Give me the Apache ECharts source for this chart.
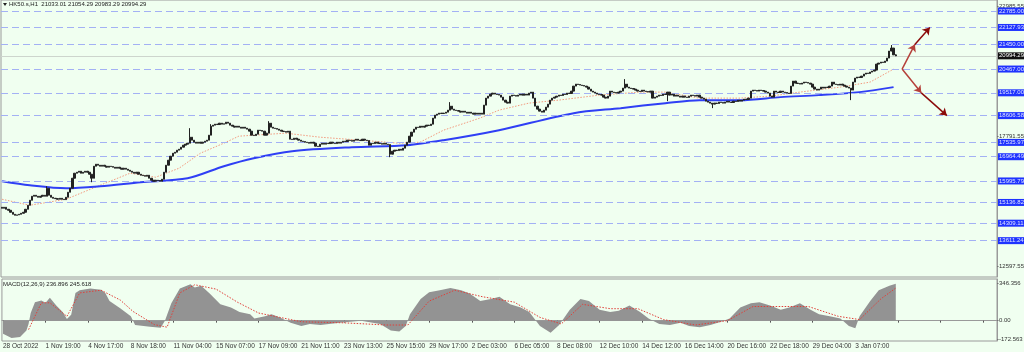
<!DOCTYPE html>
<html><head><meta charset="utf-8">
<script src="https://cdn.jsdelivr.net/npm/echarts@6/dist/echarts.min.js"></script>
<style>html,body{margin:0;padding:0;background:#f0fff0}#c{width:1024px;height:352px}</style>
</head><body><div id="c"></div><script>
const headerText = 'HK50.s,H1  21033.01 21054.29 20983.29 20994.29';
const macdText = 'MACD(12,26,9) 236.896 245.618';
const firstOpen = 14945;
const closes = [
14905,14945,14865,14825,14745,14665,14625,14640,14665,14705,14745,14865,15025,15225,15385,15425,15385,15345,15385,15425,
15385,15705,15425,15345,15305,15290,15265,15305,15265,15250,15345,15545,15705,16105,16305,16345,16385,16305,16345,16385,
16345,16265,16105,16585,16665,16625,16585,16625,16585,16545,16585,16570,16545,16505,16545,16505,16465,16505,16465,16425,
16385,16345,16305,16345,16265,16225,16210,16185,16225,16105,16025,15985,16025,16010,15985,16065,16345,16625,16825,16985,
17105,17145,17225,17265,17345,17425,17465,17505,17745,17625,17545,17505,17545,17505,17545,17585,17625,17825,18185,18225,
18265,18250,18305,18265,18280,18345,18305,18225,18185,18145,18185,18145,18105,18145,18105,18065,17985,17825,17810,17865,
18025,18010,17985,17825,17905,18305,18145,18105,18090,18065,18025,17985,17970,17945,17985,17665,17650,17705,17665,17625,
17585,17570,17545,17530,17505,17545,17505,17385,17370,17465,17505,17465,17505,17490,17545,17505,17490,17545,17505,17545,
17585,17570,17625,17610,17585,17625,17665,17625,17610,17665,17625,17610,17425,17505,17490,17545,17505,17490,17465,17505,
17465,17450,17065,17185,17225,17210,17265,17225,17305,17425,17545,17785,17945,18065,18145,18130,18185,18145,18185,18225,
18210,18265,18505,18625,18665,18705,18690,18705,18745,18825,18985,18865,18825,18810,18785,18745,18785,18745,18705,18745,
18705,18665,18705,18665,18705,18665,19025,19305,19385,19465,19505,19465,19450,19425,19345,19225,19145,19105,19385,19425,
19410,19385,19425,19465,19425,19465,19425,19505,19545,19305,18985,18865,18785,18745,18825,18945,19065,19225,19305,19345,
19385,19425,19410,19465,19450,19505,19490,19585,19785,19865,19850,19825,19810,19785,19745,19665,19585,19545,19505,19465,
19450,19425,19345,19305,19385,19585,19545,19530,19505,19545,19585,19705,19865,19745,19705,19690,19665,19625,19585,19570,
19625,19585,19570,19545,19585,19305,19345,19385,19425,19410,19465,19450,19545,19425,19465,19385,19425,19385,19345,19385,
19345,19330,19385,19425,19410,19385,19425,19345,19305,19265,19185,19145,19105,19065,19105,19090,19145,19130,19105,19145,
19185,19145,19130,19185,19170,19225,19185,19225,19265,19250,19305,19585,19625,19610,19585,19625,19610,19585,19545,19505,
19385,19345,19585,19545,19530,19585,19545,19530,19505,19490,19785,19985,19905,19890,19865,19905,19945,19930,19905,19865,
19745,19665,19625,19665,19745,19705,19745,19730,19785,19945,19865,19850,19825,19865,19825,19785,19745,19705,19625,19945,
20105,20145,20130,20185,20265,20305,20290,20345,20385,20425,20665,20705,20745,20730,20785,20905,21185,21305,21033.01,20994.29
];
const spikeHighs = [[21,15785],[88,18105],[98,18265],[125,18385],[210,19145],[292,20065],[417,21425],[419,21054.29]];
const spikeLows = [[42,15945],[182,16945],[312,19185],[333,18905],[398,19225],[419,20983.29]];
const slotCount = 467;
const timeLabels = ['28 Oct 2022','1 Nov 19:00','4 Nov 17:00','8 Nov 18:00','11 Nov 04:00','15 Nov 07:00','17 Nov 09:00','21 Nov 11:00','23 Nov 13:00','25 Nov 15:00','29 Nov 17:00','2 Dec 03:00','6 Dec 05:00','8 Dec 08:00','12 Dec 10:00','14 Dec 12:00','16 Dec 14:00','20 Dec 16:00','22 Dec 18:00','29 Dec 04:00','3 Jan 07:00'];
const labelEvery = 20;
const slowMA = [[0,15985],[13,15825],[30,15705],[46,15785],[65,15945],[87,16105],[104,16585],[118,16905],[136,17185],[164,17345],[190,17425],[207,17625],[233,18025],[268,18705],[290,18905],[311,19105],[327,19225],[346,19225],[365,19345],[383,19425],[402,19545],[418,19745]];
const fastMA = [[0,15265],[13,15025],[30,15265],[46,15825],[60,16305],[72,16145],[83,16505],[93,17105],[104,17505],[111,17785],[133,17905],[149,17745],[168,17625],[186,17505],[196,17545],[207,18025],[224,18505],[233,18825],[247,19105],[261,19225],[280,19425],[299,19545],[311,19545],[327,19305],[346,19305],[360,19385],[374,19545],[393,19745],[407,19945],[418,20465]];
const levels = [22785.00,22127.93,21450.00,20467.00,19517.00,18606.58,17535.97,16964.49,15995.79,15136.82,14309.11,13611.24];
const bidPrice = 20994.29;
const priceTicks = [22985.55,17791.55,12597.55];
const arrowUp = [[422,20467.00],[428,21450.00],[435,22127.93]];
const arrowDown = [[422,20467.00],[431,19517.00],[443,18606.58]];
const macdHist = [[0,-120],[4,-160],[8,-150],[11,-90],[12,-30],[13,70],[15,170],[18,185],[20,165],[22,210],[25,140],[28,80],[30,15],[32,55],[34,255],[36,280],[41,295],[46,285],[48,255],[50,180],[55,115],[60,40],[62,-40],[69,-55],[74,-65],[76,0],[79,160],[83,295],[88,335],[90,305],[93,320],[97,250],[102,150],[107,120],[111,80],[116,60],[118,20],[123,40],[126,60],[130,30],[135,-20],[140,-50],[144,-30],[149,-40],[158,-20],[168,0],[177,-30],[182,-90],[186,-100],[189,-50],[191,60],[196,200],[200,260],[205,280],[210,300],[215,280],[219,250],[224,180],[229,200],[233,220],[238,150],[243,120],[247,80],[252,-50],[257,-110],[261,-40],[266,100],[271,200],[275,180],[280,100],[285,80],[289,90],[294,140],[299,80],[303,20],[308,-30],[313,-40],[318,-20],[322,-50],[327,-60],[332,-40],[337,-10],[341,20],[346,120],[351,160],[355,170],[360,140],[365,100],[369,120],[374,160],[379,100],[383,60],[388,40],[393,20],[397,-50],[400,-70],[402,40],[407,180],[411,280],[416,320],[419,340]];
const macdSignal = [[12,-82],[18,164],[22,164],[30,40],[36,255],[46,280],[55,190],[61,85],[71,-36],[77,-60],[83,255],[90,330],[100,290],[110,170],[120,70],[130,30],[140,-10],[160,-20],[180,-40],[190,-40],[200,180],[212,280],[225,220],[240,170],[252,30],[262,-30],[272,150],[285,110],[298,110],[310,10],[325,-40],[340,0],[352,130],[365,130],[378,130],[392,40],[402,10],[412,200],[419,300]];
const macdTicks = [346.356,0.00,-172.563];

const pxTop = 23225.25, pxBottom = 12159;
const macdMax = 382.8, macdMin = -186.9;

const cats = [];
for (let i = 0; i < slotCount; i++) cats.push(String(i));
const candles = closes.map((c, i) => {
  const o = i === 0 ? firstOpen : closes[i - 1];
  return [o, c, Math.min(o, c), Math.max(o, c)];
});
spikeHighs.forEach(([i, v]) => { candles[i][3] = Math.max(candles[i][3], v); });
spikeLows.forEach(([i, v]) => { candles[i][2] = Math.min(candles[i][2], v); });

const font = 'Liberation Sans';
const fs = 6;
const chart = echarts.init(document.getElementById('c'), null, {renderer: 'canvas'});

const levelLines = levels.map(v => ({
  yAxis: v,
  lineStyle: {color: '#a3b1f4', type: [7, 4], width: 1},
  label: {show: true, position: 'end', distance: 1, formatter: v.toFixed(2), color: '#dfe4ff', backgroundColor: '#1f33ff', padding: [1, 1, 0, 1], fontSize: fs, fontFamily: font}
}));
const bidLine = {
  yAxis: bidPrice,
  lineStyle: {color: '#cdd5cd', type: 'solid', width: 1},
  label: {show: true, position: 'end', distance: 1, formatter: bidPrice.toFixed(2), color: '#ffffff', backgroundColor: '#111111', padding: [1, 1, 0, 1], fontSize: fs, fontFamily: font}
};
function segs(pts, colors) {
  const out = [];
  for (let k = 0; k < pts.length - 1; k++) {
    out.push([{coord: pts[k], lineStyle: {color: colors[k], width: 1.5, type: 'solid'}, symbol: 'none'}, {coord: pts[k + 1], symbol: 'arrow'}]);
  }
  return out;
}
const arrowLines = segs(arrowUp, ['#b5403a', '#8b0a0a']).concat(segs(arrowDown, ['#b5403a', '#8b0a0a']));

const tickLines = priceTicks.map(v => ({
  yAxis: v, lineStyle: {color: 'rgba(0,0,0,0)', width: 0},
  label: {show: true, position: 'end', distance: 0, formatter: '-' + v.toFixed(2), color: '#333', fontSize: fs, fontFamily: font}
}));
const macdTickLines = macdTicks.map(v => ({
  yAxis: v, lineStyle: {color: 'rgba(0,0,0,0)', width: 0},
  label: {show: true, position: 'end', distance: 0, formatter: '-' + (v === 0 ? '0.00' : String(v)), color: '#333', fontSize: fs, fontFamily: font}
}));

const option = {
  backgroundColor: '#f0fff0',
  animation: false,
  grid: [
    {left: 1, right: 27, top: 0, height: 277, show: true, borderColor: '#9a9a9a', borderWidth: 1, backgroundColor: 'transparent'},
    {left: 1, right: 27, top: 279, height: 62, show: true, borderColor: '#9a9a9a', borderWidth: 1, backgroundColor: 'transparent'}
  ],
  xAxis: [
    {type: 'category', gridIndex: 0, data: cats, boundaryGap: true, axisLine: {show: false}, axisTick: {show: false}, axisLabel: {show: false}, splitLine: {show: false}},
    {type: 'category', gridIndex: 1, data: cats, boundaryGap: true,
     axisLine: {show: true, lineStyle: {color: '#9a9a9a'}},
     axisTick: {show: true, alignWithLabel: true, length: 2, interval: (i) => i % labelEvery === 0, lineStyle: {color: '#555'}},
     axisLabel: {show: true, interval: (i) => i % labelEvery === 0, align: 'left', margin: 2, fontSize: 6.5, fontFamily: font, color: '#333',
       formatter: (v, i) => (i % labelEvery === 0 && timeLabels[i / labelEvery]) ? timeLabels[i / labelEvery] : ''},
     splitLine: {show: false}}
  ],
  yAxis: [
    {type: 'value', gridIndex: 0, position: 'right', min: pxBottom, max: pxTop, axisLine: {show: true, lineStyle: {color: '#9a9a9a'}}, axisTick: {show: false}, axisLabel: {show: false}, splitLine: {show: false}},
    {type: 'value', gridIndex: 1, position: 'right', min: macdMin, max: macdMax, axisLine: {show: true, lineStyle: {color: '#9a9a9a'}}, axisTick: {show: false}, axisLabel: {show: false}, splitLine: {show: false}}
  ],
  graphic: [
    {type: 'polygon', shape: {points: [[3, 3], [7, 3], [5, 6]]}, style: {fill: '#222'}},
    {type: 'text', left: 9, top: 1.5, style: {text: headerText, fontSize: 6, fontFamily: font, fill: '#222'}},
    {type: 'text', left: 3, top: 281, style: {text: macdText, fontSize: 6, fontFamily: font, fill: '#222'}}
  ],
  series: [
    {type: 'line', xAxisIndex: 0, yAxisIndex: 0, data: [], silent: true, z: 1,
     markLine: {silent: true, symbol: ['none', 'none'], data: tickLines}},
    {type: 'line', xAxisIndex: 0, yAxisIndex: 0, data: [], silent: true, z: 2,
     markLine: {silent: true, symbol: ['none', 'none'], data: levelLines.concat([bidLine])}},
    {type: 'line', xAxisIndex: 0, yAxisIndex: 0, data: fastMA, showSymbol: false, z: 3,
     lineStyle: {color: '#f39a7e', width: 1, type: [1.5, 1.5]}},
    {type: 'line', xAxisIndex: 0, yAxisIndex: 0, data: slowMA, showSymbol: false, smooth: 0.3, z: 4,
     lineStyle: {color: '#2f3ff5', width: 2}},
    {type: 'candlestick', xAxisIndex: 0, yAxisIndex: 0, data: candles, barWidth: 1.8, z: 5,
     itemStyle: {color: '#222', color0: '#222', borderColor: '#222', borderColor0: '#222', borderWidth: 1}},
    {type: 'line', xAxisIndex: 0, yAxisIndex: 0, data: [], silent: true, z: 6,
     markLine: {silent: true, symbol: ['none', 'arrow'], symbolSize: 7, data: arrowLines}},
    {type: 'line', xAxisIndex: 1, yAxisIndex: 1, data: macdHist, showSymbol: false, z: 2,
     lineStyle: {width: 0}, areaStyle: {color: '#939393', opacity: 1, origin: 0},
     markLine: {silent: true, symbol: ['none', 'none'], data: macdTickLines}},
    {type: 'line', xAxisIndex: 1, yAxisIndex: 1, data: macdSignal, showSymbol: false, z: 3,
     lineStyle: {color: '#e0403a', width: 1, type: [1.5, 1.5]}}
  ]
};
chart.setOption(option);
</script></body></html>
